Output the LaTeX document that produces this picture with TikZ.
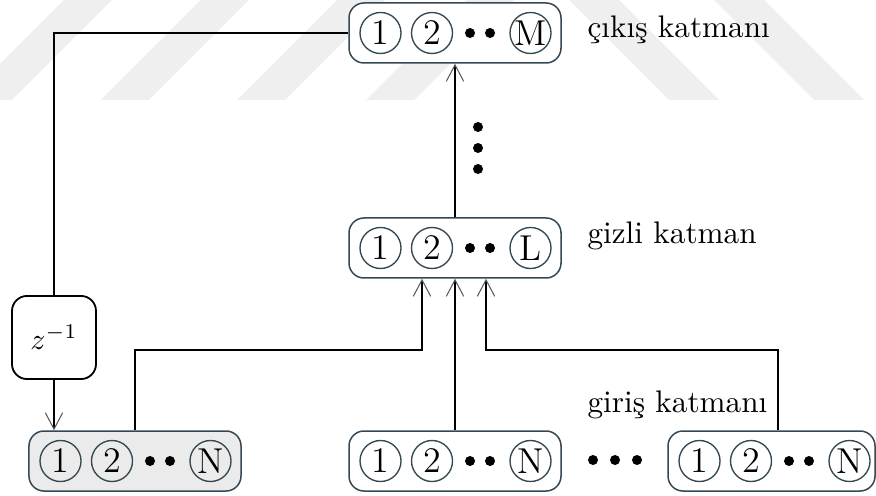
\documentclass[tikz,border=0pt]{standalone}
\usepackage{fontspec}
\usetikzlibrary{arrows.meta,calc}
\definecolor{boxcol}{RGB}{52,72,84}
\definecolor{infill}{RGB}{235,235,235}
\definecolor{wm}{RGB}{239,239,239}
\definecolor{tipcol}{RGB}{90,90,90}
\tikzset{
  layer/.style={draw=boxcol, line width=0.5pt, rounded corners=5pt, minimum width=70.67pt, minimum height=20pt, inner sep=0pt, fill=white},
  unit/.style={draw=boxcol, line width=0.45pt, circle, minimum size=13.67pt, inner sep=0pt, font=\large},
  conn/.style={line width=0.6pt, black},
  arr/.style={-{Straight Barb[length=5.5pt,width=5.8pt,line width=0.35pt,color=tipcol]}},
  lbl/.style={anchor=base west, font=\fontsize{10.4}{12}\selectfont, inner sep=0pt},
  delay/.style={draw=black, line width=0.6pt, rounded corners=5pt, minimum width=28pt, minimum height=27.7pt, inner sep=0pt, fill=white},
}
\newcommand{\layerrow}[4]{%
  \node[unit] (#1a) at (#2+31.5,#3) {1};
  \node[unit] (#1b) at (#2+83,#3) {2};
  \fill (#2+121,#3) circle[radius=1.67pt];
  \fill (#2+141,#3) circle[radius=1.67pt];
  \node[unit] (#1c) at (#2+181.5,#3) {#4};
}
\begin{document}
\begin{tikzpicture}[x=0.33333pt, y=-0.33333pt]
\useasboundingbox (0,0) rectangle (876,496);
% watermark stripes
\foreach \b in {-36,101,237,366}
  \fill[wm] (\b,100) -- (\b+48,100) -- (\b+148,0) -- (\b+100,0) -- cycle;
\foreach \t in {569,714}
  \fill[wm] (\t,0) -- (\t+50,0) -- (\t+150,100) -- (\t+100,100) -- cycle;
% layer boxes
\node[layer] (out) at (455,33) {};
\node[layer] (hid) at (455,248) {};
\node[layer, fill=infill] (in1) at (135,461) {};
\node[layer] (in2) at (455,461) {};
\node[layer, minimum width=69pt] (in3) at (771.5,461) {};
\layerrow{o}{349}{33}{M}
\layerrow{h}{349}{248}{L}
\layerrow{p}{29}{461}{N}
\layerrow{q}{349}{461}{N}
\layerrow{r}{668}{461}{N}
% ellipses
\fill (478,127) circle[radius=1.67pt];
\fill (478,148) circle[radius=1.67pt];
\fill (478,169) circle[radius=1.67pt];
\fill (593,460) circle[radius=1.67pt];
\fill (615,460) circle[radius=1.67pt];
\fill (637,460) circle[radius=1.67pt];
% delay
\node[delay] (z) at (54,337.5) {$z^{-1}$};
% labels
\node[lbl] (lo) at (587,38) {çıkış katmanı};
\node[lbl] (lh) at (587,244) {gizli katman};
\node[lbl] (li) at (587,412) {giriş katmanı};
% connectors
\coordinate (h1) at ($(hid.south)+(-33,0)$);
\coordinate (h3) at ($(hid.south)+(31,0)$);
\coordinate (in3top) at ($(in3.north)+(6.5,0)$);
\draw[conn] (out.west) -| (z.north);
\draw[conn,arr] (z.south) -- (z.south |- in1.north);
\draw[conn,arr] (hid.north) -- (out.south);
\draw[conn,arr] (in1.north) -- ++(0,-80) -| (h1);
\draw[conn,arr] (in2.north) -- (hid.south);
\draw[conn,arr] (in3top) -- ++(0,-80) -| (h3);
\end{tikzpicture}
\end{document}
